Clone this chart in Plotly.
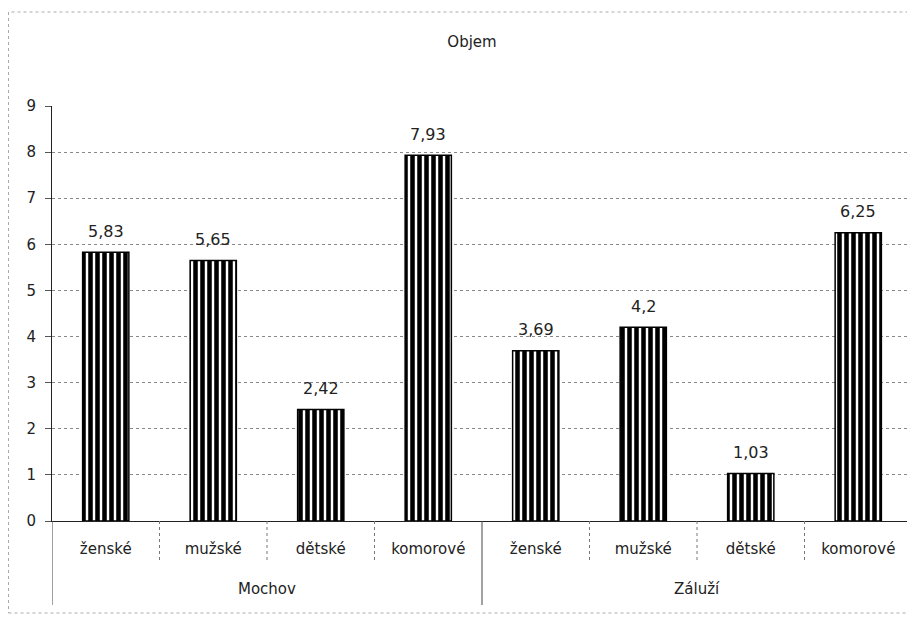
import plotly.graph_objects as go

groups = ["Mochov", "Záluží"]
categories = ["ženské", "mužské", "dětské", "komorové"] * 2
values = [5.83, 5.65, 2.42, 7.93, 3.69, 4.2, 1.03, 6.25]
y_ticks = list(range(0, 10))

positions = list(range(len(values)))
labels = [str(v).replace(".", ",") for v in values]

FONT = "DejaVu Sans, Liberation Sans, Arial, sans-serif"

fig = go.Figure(
    go.Bar(
        x=positions,
        y=values,
        width=0.43,
        marker=dict(
            color="white",
            line=dict(color="black", width=1.5),
            pattern=dict(shape="|", fgcolor="black", bgcolor="white",
                         fgopacity=1, size=7, solidity=0.65, fillmode="replace"),
        ),
        hoverinfo="x+y",
    )
)

W, H = 915, 618
l, r, t, b = 44, 11, 98, 105
pw = W - l - r
ph = H - t - b

def py(fig_y):
    return (H - b - fig_y) / ph

shapes = [
    dict(type="rect", xref="paper", yref="paper",
         x0=(0.5 - l) / pw, x1=(903 - l) / pw,
         y0=py(605), y1=py(4),
         line=dict(color="#aaa", width=1, dash="dot"), layer="below"),
]
n = len(values)
for i in range(n + 1):
    xb = i - 0.5
    is_group = i % 4 == 0
    shapes.append(dict(type="line", xref="x", yref="paper",
                       x0=xb, x1=xb, y0=0, y1=py(597) if is_group else py(555),
                       line=dict(color="#444" if is_group else "#777", width=1,
                                 dash="solid" if is_group else "dot")))

annotations = []
for gi, g in enumerate(groups):
    annotations.append(dict(text=g, xref="x", yref="paper",
                            x=gi * 4 + 1.5, y=py(581), showarrow=False,
                            font=dict(size=15, color="#222"), yanchor="middle"))
for xi, v, lab in zip(positions, values, labels):
    annotations.append(dict(text=lab, xref="x", yref="y", x=xi, y=v,
                            yanchor="middle", yshift=21, showarrow=False,
                            font=dict(size=16, color="#222")))

fig.update_layout(
    width=W, height=H,
    margin=dict(l=l, r=r, t=t, b=b),
    paper_bgcolor="white", plot_bgcolor="white",
    font=dict(family=FONT, size=15, color="#222"),
    title=dict(text="Objem", x=464 / W, xanchor="center",
               y=1 - 34 / H, yanchor="middle", font=dict(size=15)),
    showlegend=False,
    shapes=shapes,
    annotations=annotations,
)

fig.update_xaxes(
    range=[-0.5, n - 0.5],
    tickvals=positions, ticktext=categories,
    showgrid=False,
    showline=True, linecolor="#222", linewidth=1,
    ticks="", tickfont=dict(size=15), ticklabelstandoff=14,
)
fig.update_yaxes(
    range=[0, 9], tickvals=y_ticks,
    showgrid=True, gridcolor="#888", griddash="dot", gridwidth=1,
    showline=True, linecolor="#222", linewidth=1,
    ticks="outside", ticklen=6, tickcolor="#555",
    tickfont=dict(size=15), ticklabelstandoff=6, zeroline=False,
)

fig.write_html("out.html")
